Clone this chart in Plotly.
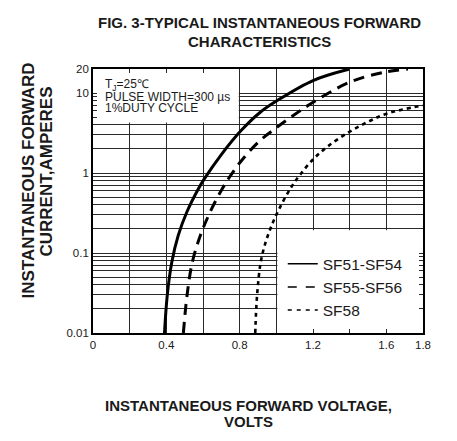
import plotly.graph_objects as go

# ---- data ----
sf51_v = [0.39, 0.405, 0.43, 0.465, 0.512, 0.575, 0.608, 0.697, 0.809, 0.914, 1.007, 1.203, 1.40]
sf51_i = [0.01, 0.0296, 0.0772, 0.1665, 0.326, 0.637, 0.85, 1.667, 3.42, 5.80, 8.12, 14.45, 20]

sf55_v = [0.493, 0.513, 0.542, 0.586, 0.639, 0.705, 0.745, 0.804, 0.902, 0.993, 1.094, 1.203, 1.403, 1.594, 1.718]
sf55_i = [0.01, 0.0296, 0.0772, 0.1665, 0.326, 0.637, 0.892, 1.375, 2.445, 3.585, 5.27, 7.73, 13.76, 18.34, 20]

sf58_v = [0.885, 0.895, 0.915, 0.942, 0.975, 1.016, 1.076, 1.127, 1.204, 1.288, 1.397, 1.498, 1.602, 1.799]
sf58_i = [0.01, 0.0296, 0.0772, 0.1374, 0.2222, 0.358, 0.637, 0.937, 1.511, 2.22, 3.26, 4.35, 5.52, 7.03]

series_names = ["SF51-SF54", "SF55-SF56", "SF58"]

x_tickvals = [0, 0.2, 0.4, 0.6, 0.8, 1.0, 1.2, 1.4, 1.6, 1.8]
x_ticktext = ["0", " ", "0.4", " ", "0.8", " ", "1.2", " ", "1.6", "1.8"]

y_tickvals = [m * d for d in (0.01, 0.1, 1) for m in range(1, 10)] + [10, 20]
y_labels = {0.01: "0.01", 0.1: "0.1", 1: "1", 10: "10", 20: "20"}
y_ticktext = [y_labels.get(round(v, 6), " ") for v in y_tickvals]

note_lines = ["T<sub>J</sub>=25℃", "PULSE WIDTH=300 µs", "1%DUTY CYCLE"]

FONT = "Arial, Liberation Sans, sans-serif"
INK = "#1a1a1a"

# page body has an 8px margin; shrink the figure so the plot lands where the reference's does
OFF = 8
PL, PR, PT, PB = 93, 423, 69, 333   # plot area in page pixels


def px(xp):
    return (xp - PL) / (PR - PL)


def py(yp):
    return (PB - yp) / (PB - PT)


fig = go.Figure()
styles = [
    dict(color="black", width=3, dash="solid"),
    dict(color="black", width=3, dash="11px,7px"),
    dict(color="black", width=2.6, dash="4px,4px"),
]
for (v, i), st in zip([(sf51_v, sf51_i), (sf55_v, sf55_i), (sf58_v, sf58_i)], styles):
    fig.add_trace(go.Scatter(x=v, y=i, mode="lines", line=dict(shape="spline", smoothing=1.0, **st),
                             showlegend=False, hoverinfo="skip"))
# legend entries with thinner sample lines
leg_styles = [
    dict(color="black", width=1.5, dash="solid"),
    dict(color="black", width=1.5, dash="9px,9px"),
    dict(color="black", width=1.5, dash="4px,5px"),
]
for name, st in zip(series_names, leg_styles):
    fig.add_trace(go.Scatter(x=[None], y=[None], mode="lines", name=name, line=st))

annotations = [
    dict(text="<b>FIG. 3-TYPICAL INSTANTANEOUS FORWARD</b>", xref="paper", yref="paper",
         x=px(259), y=py(22), xanchor="center", yanchor="middle", showarrow=False,
         font=dict(size=15, color=INK)),
    dict(text="<b>CHARACTERISTICS</b>", xref="paper", yref="paper",
         x=px(259), y=py(42), xanchor="center", yanchor="middle", showarrow=False,
         font=dict(size=15, color=INK)),
    dict(text="<b>INSTANTANEOUS FORWARD VOLTAGE,</b>", xref="paper", yref="paper",
         x=px(248), y=py(405), xanchor="center", yanchor="middle",
         showarrow=False, font=dict(size=15, color=INK)),
    dict(text="<b>VOLTS</b>", xref="paper", yref="paper",
         x=px(248), y=py(421), xanchor="center", yanchor="middle",
         showarrow=False, font=dict(size=15, color=INK)),
    dict(text="<b>INSTANTANEOUS FORWARD</b>", xref="paper", yref="paper", textangle=-90,
         x=px(27.5), y=py(181), xanchor="center", yanchor="middle",
         showarrow=False, font=dict(size=17, color=INK)),
    dict(text="<b>CURRENT,AMPERES</b>", xref="paper", yref="paper", textangle=-90,
         x=px(45.5), y=py(171), xanchor="center", yanchor="middle",
         showarrow=False, font=dict(size=17, color=INK)),
]
for line_text, yc in zip(note_lines, [85, 96.7, 108.3]):
    annotations.append(dict(text=line_text, xref="paper", yref="paper", x=px(103), y=py(yc),
                            xanchor="left", yanchor="middle", align="left", showarrow=False,
                            font=dict(size=12, color=INK)))

fig.update_layout(
    width=457 - OFF, height=441 - OFF,
    margin=dict(l=PL - OFF, r=457 - PR, t=PT - OFF, b=441 - PB, autoexpand=False),
    paper_bgcolor="white", plot_bgcolor="white",
    font=dict(family=FONT, color=INK, size=11.5),
    showlegend=True,
    legend=dict(x=0.575, y=0.325, xanchor="left", yanchor="top",
                bgcolor="rgba(0,0,0,0)", font=dict(size=15.5, color=INK),
                itemwidth=30, tracegroupgap=0),
    xaxis=dict(range=[0, 1.8], tickvals=x_tickvals, ticktext=x_ticktext,
               showgrid=True, gridcolor="#2a2a2a", gridwidth=1.2,
               showline=True, linecolor="black", linewidth=1.8, mirror="allticks",
               ticks="inside", ticklen=4, tickcolor="#2a2a2a",
               tickfont=dict(size=11.5, color=INK), zeroline=False),
    yaxis=dict(type="log", range=[-2, 1.30103], tickvals=y_tickvals, ticktext=y_ticktext,
               showgrid=True, gridcolor="#2a2a2a", gridwidth=1.2,
               showline=True, linecolor="black", linewidth=1.8, mirror="allticks",
               ticks="inside", ticklen=4, tickcolor="#2a2a2a",
               tickfont=dict(size=11.5, color=INK), zeroline=False),
    shapes=[
        dict(type="rect", xref="x", yref="y", x0=0.006, x1=0.795, y0=4.3, y1=18.6,
             fillcolor="white", line=dict(width=0), layer="between"),
        dict(type="rect", xref="x", yref="y", x0=1.006, x1=1.794, y0=0.0103, y1=0.193,
             fillcolor="white", line=dict(width=0), layer="between"),
    ],
    annotations=annotations,
)

fig.write_html("out.html")
